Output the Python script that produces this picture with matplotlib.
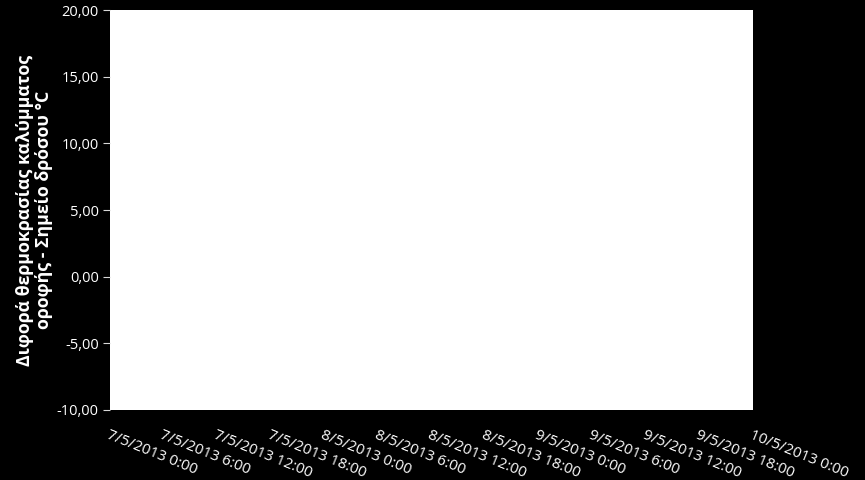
import numpy as np
import matplotlib.pyplot as plt
import matplotlib.dates as mdates
import pandas as pd

plt.rcParams['font.family'] = ['Open Sans', 'DejaVu Sans']

# time axis: 7/5/2013 0:00 -> 10/5/2013 0:00 every 6 h
tick_times = pd.date_range("2013-05-07 00:00", "2013-05-10 00:00", freq="6h")
tick_labels = [f"{t.day}/{t.month}/{t.year} {t.hour}:00" for t in tick_times]

# no visible series in the reference chart
series_times = []
series_values = []

y_ticks = [-10, -5, 0, 5, 10, 15, 20]

fig = plt.figure(figsize=(8.65, 4.8), dpi=100, facecolor='black')
ax = fig.add_axes([0.127, 0.146, 0.7435, 0.833])
ax.set_facecolor('white')

ax.plot(series_times, series_values, color='#4F81BD')

ax.set_xlim(tick_times[0], tick_times[-1])
ax.set_ylim(-10, 20)
ax.set_yticks(y_ticks)
ax.set_yticklabels([f"{v:.2f}".replace('.', ',') for v in y_ticks])
ax.set_xticks(tick_times)
ax.set_xticklabels(tick_labels, rotation=-22, rotation_mode='anchor',
                   ha='left', va='top')

for s in ax.spines.values():
    s.set_visible(False)
ax.tick_params(axis='y', colors='#d9d9d9', labelcolor='white', labelsize=10.5,
               length=5, width=0.8, direction='out', pad=3)
ax.tick_params(axis='x', colors='black', labelcolor='white', labelsize=10.8,
               length=0, pad=13)

ax.set_ylabel("Διφορά θερμοκρασίας καλύμματος\nοροφής - Σημείο δρόσου °C",
              color='white', fontsize=12.8, fontweight='bold', labelpad=3,
              linespacing=1.05)

fig.savefig("out.png", dpi=100, facecolor='black')
